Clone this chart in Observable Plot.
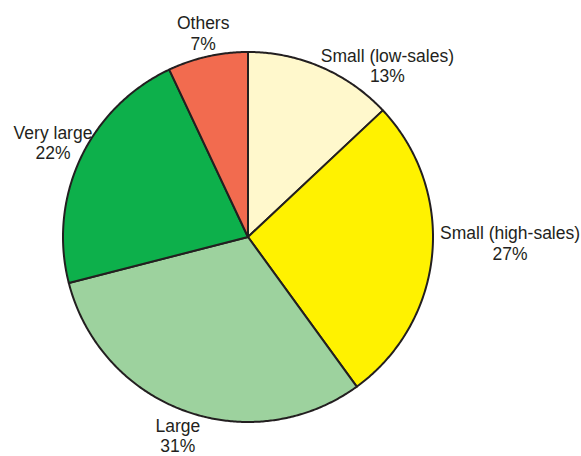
<!DOCTYPE html>
<html>
<head>
<meta charset="utf-8">
<script src="https://cdn.jsdelivr.net/npm/d3@7"></script>
<script src="https://cdn.jsdelivr.net/npm/@observablehq/plot@0.6"></script>
<style>
  html, body { margin: 0; padding: 0; background: #fff; }
  #chart { width: 581px; height: 456px; }
</style>
</head>
<body>
<div id="chart"></div>
<script>
// ---- data ----
const categories = ["Small (low-sales)", "Small (high-sales)", "Large", "Very large", "Others"];
const shares = [13, 27, 31, 22, 7];
const colors = ["#fff8cc", "#fff200", "#9dd29e", "#0db04b", "#f26b4f"];

// ---- label styling nudges (px) ----
const labelDx = [56, 53, 1, -5, 1];
const labelDy = [21, -14, 1, -5, 1];

// ---- build slice geometry from data via d3.pie ----
const pie = d3.pie().sort(null).value(d => d)(shares);
const pts = [];
pie.forEach((p, i) => {
  const n = Math.max(2, Math.ceil((p.endAngle - p.startAngle) / (Math.PI / 360)));
  pts.push({cat: categories[i], color: colors[i], x: 0, y: 0});
  for (let k = 0; k <= n; k++) {
    const a = p.startAngle + (p.endAngle - p.startAngle) * k / n;
    pts.push({cat: categories[i], color: colors[i], x: Math.sin(a), y: Math.cos(a)});
  }
});
const labelR = 1.135;
const labels = pie.map((p, i) => {
  const a = (p.startAngle + p.endAngle) / 2;
  return {text: `${categories[i]}\n${shares[i]}%`, x: labelR * Math.sin(a), y: labelR * Math.cos(a), i};
});

const cx = 247.5, cy = 236.5, r = 185;
const chart = Plot.plot({
  width: 581,
  height: 456,
  margin: 0,
  style: {background: "#fff"},
  x: {domain: [-1, 1], range: [cx - r, cx + r], axis: null},
  y: {domain: [-1, 1], range: [cy + r, cy - r], axis: null},
  color: {type: "identity"},
  marks: [
    Plot.line(pts, {x: "x", y: "y", z: "cat", fill: "color", stroke: "#231f20", strokeWidth: 2, strokeLinejoin: "round", curve: "linear-closed"}),
    ...labels.map(l => Plot.text([l], {
      x: "x", y: "y", text: "text",
      dx: labelDx[l.i], dy: labelDy[l.i],
      fontSize: 17.5, fontFamily: "Liberation Sans, Arial, sans-serif",
      fill: "#231f20", lineHeight: 1.17, textAnchor: "middle", lineAnchor: "middle"
    }))
  ]
});
document.getElementById("chart").appendChild(chart);
</script>
</body>
</html>
